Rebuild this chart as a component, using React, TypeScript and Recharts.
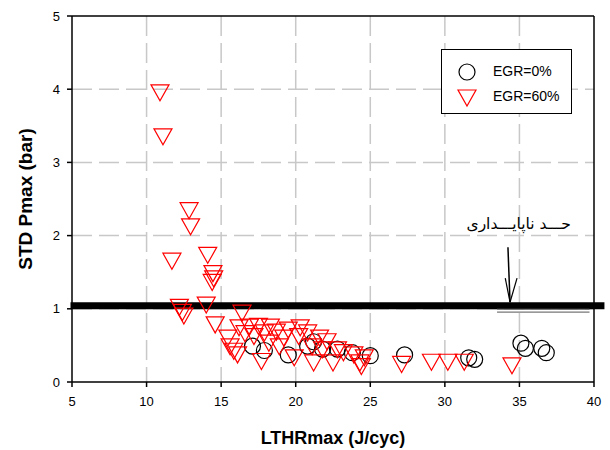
import {
  ScatterChart,
  Scatter,
  XAxis,
  YAxis,
  CartesianGrid,
  ReferenceLine,
  ReferenceDot,
  Legend,
} from 'recharts';

// EGR = 0% (black circles)
const egr0X = [17.1, 17.9, 19.5, 20.8, 21.2, 21.8, 22.8, 23.8, 25.0, 27.3, 31.6, 32.0, 35.1, 35.4, 36.5, 36.8];
const egr0Y = [0.49, 0.43, 0.37, 0.49, 0.55, 0.45, 0.45, 0.40, 0.36, 0.37, 0.33, 0.31, 0.53, 0.46, 0.46, 0.40];

// EGR = 60% (red triangles)
const egr60X = [
  10.9, 11.1, 12.85, 12.95, 11.7, 14.1, 14.45, 14.5, 14.4, 12.2, 12.5, 12.4, 14.0, 14.6,
  15.45, 15.85, 16.2, 16.4, 16.9, 16.6, 17.5, 17.7, 17.9, 18.2, 18.3, 18.7, 18.9, 19.5,
  19.9, 20.2, 20.3, 20.8, 21.1, 21.2, 21.6, 21.8, 22.1, 22.5, 22.8, 23.2, 23.9, 24.3,
  24.4, 24.6, 16.1, 15.6, 17.2, 19.2,
  27.1, 29.1, 30.2, 31.3, 34.5,
];
const egr60Y = [
  3.95, 3.35, 2.34, 2.12, 1.65, 1.73, 1.48, 1.41, 1.36, 1.02, 0.9, 0.95, 1.05, 0.78,
  0.6, 0.42, 0.74, 0.94, 0.75, 0.66, 0.76, 0.28, 0.67, 0.53, 0.75, 0.68, 0.48, 0.71,
  0.33, 0.62, 0.74, 0.67, 0.48, 0.26, 0.6, 0.44, 0.55, 0.26, 0.44, 0.40, 0.37, 0.26,
  0.21, 0.33, 0.37, 0.48, 0.62, 0.6,
  0.24, 0.27, 0.27, 0.27, 0.22,
];

const xTicks = [5, 10, 15, 20, 25, 30, 35, 40];
const yTicks = [0, 1, 2, 3, 4, 5];

const limitY = 1.04;
const limitLabel = 'حـــد ناپایـــداری';

const egr0 = egr0X.map((x, i) => ({ x, y: egr0Y[i] }));
const egr60 = egr60X.map((x, i) => ({ x, y: egr60Y[i] }));

const font = '"Liberation Sans", Arial, sans-serif';

const CircleMark = (p: any) => (
  <circle cx={p.cx} cy={p.cy} r={8} fill="none" stroke="#000" strokeWidth={1.2} />
);

const TriMark = (p: any) => (
  <polygon
    points={`${p.cx - 9},${p.cy - 8} ${p.cx + 9},${p.cy - 8} ${p.cx},${p.cy + 8}`}
    fill="none"
    stroke="#ff0000"
    strokeWidth={1.2}
  />
);

function LegendBox() {
  return (
    <div
      style={{
        width: 131,
        height: 65,
        border: '1.5px solid #000',
        boxSizing: 'border-box',
        background: '#fff',
        fontFamily: font,
        fontSize: 14,
        color: '#000',
        position: 'relative',
      }}
    >
      <svg width={40} height={60} style={{ position: 'absolute', left: 10, top: 2 }}>
        <circle cx={15} cy={20} r={8} fill="none" stroke="#000" strokeWidth={1.2} />
        <polygon points="6,38 24,38 15,54" fill="none" stroke="#ff0000" strokeWidth={1.2} />
      </svg>
      <div style={{ position: 'absolute', left: 51, top: 13 }}>EGR=0%</div>
      <div style={{ position: 'absolute', left: 51, top: 38 }}>EGR=60%</div>
    </div>
  );
}

export default function App() {
  return (
    <div style={{ position: 'absolute', left: 0, top: 0, background: '#fff' }}>
      <ScatterChart width={610} height={450} margin={{ top: 16, right: 16, bottom: 0, left: 0 }}>
        <CartesianGrid
          stroke="#c8c8c8"
          strokeWidth={1.5}
          strokeDasharray="20 7"
          horizontalValues={[1, 2, 3, 4]}
          verticalValues={[10, 15, 20, 25, 30, 35]}
        />
        <XAxis
          type="number"
          dataKey="x"
          domain={[5, 40]}
          ticks={xTicks}
          height={68}
          stroke="#000"
          strokeWidth={1.5}
          tickSize={5}
          tickMargin={10}
          tick={{ fill: '#000', fontSize: 13, fontFamily: font }}
          label={{
            value: 'LTHRmax (J/cyc)',
            position: 'insideBottom',
            offset: 6,
            style: { fill: '#000', fontSize: 18, fontWeight: 'bold', fontFamily: font },
          }}
        />
        <YAxis
          type="number"
          dataKey="y"
          domain={[0, 5]}
          ticks={yTicks}
          width={72}
          stroke="#000"
          strokeWidth={1.5}
          tickSize={5}
          tickMargin={7}
          tick={{ fill: '#000', fontSize: 13, fontFamily: font }}
          label={{
            content: ({ viewBox }: any) => {
              const cx = viewBox.x + 25;
              const cy = viewBox.y + viewBox.height / 2;
              return (
                <text
                  x={cx}
                  y={cy}
                  transform={`rotate(-90 ${cx} ${cy})`}
                  textAnchor="middle"
                  dominantBaseline="central"
                  style={{ fill: '#000', fontSize: 19, fontWeight: 'bold', fontFamily: font }}
                >
                  STD Pmax (bar)
                </text>
              );
            },
          }}
        />
        <ReferenceLine x={40} stroke="#000" strokeWidth={1.5} />
        <ReferenceLine y={5} stroke="#000" strokeWidth={1.5} />

        <Scatter name="EGR=0%" data={egr0} shape={CircleMark} isAnimationActive={false} />
        <Scatter name="EGR=60%" data={egr60} shape={TriMark} isAnimationActive={false} />

        <ReferenceLine
          segment={[{ x: 4.9, y: limitY }, { x: 40.7, y: limitY }]}
          stroke="#000"
          strokeWidth={7}
          ifOverflow="visible"
        />
        <ReferenceLine
          segment={[{ x: 33.5, y: 0.995 }, { x: 39.7, y: 0.995 }]}
          stroke="#555"
          strokeWidth={1}
          ifOverflow="visible"
        />
        <ReferenceLine
          segment={[{ x: 33.5, y: 0.955 }, { x: 39.7, y: 0.955 }]}
          stroke="#555"
          strokeWidth={1}
          ifOverflow="visible"
        />
        <ReferenceLine segment={[{ x: 34.23, y: 1.84 }, { x: 34.37, y: 1.09 }]} stroke="#000" strokeWidth={1.5} />
        <ReferenceLine segment={[{ x: 34.05, y: 1.42 }, { x: 34.37, y: 1.09 }]} stroke="#000" strokeWidth={1.2} />
        <ReferenceLine segment={[{ x: 34.84, y: 1.42 }, { x: 34.37, y: 1.09 }]} stroke="#000" strokeWidth={1.2} />
        <ReferenceDot
          x={34.95}
          y={2.17}
          r={0}
          stroke="none"
          fill="none"
          label={{
            value: limitLabel,
            position: 'center',
            style: { fill: '#000', fontSize: 15.5, fontFamily: '"DejaVu Sans", sans-serif' },
          }}
        />

        <Legend
          layout="vertical"
          align="center"
          verticalAlign="middle"
          wrapperStyle={{ position: 'absolute', left: 441, top: 49, width: 131 }}
          content={() => <LegendBox />}
        />
      </ScatterChart>
    </div>
  );
}
